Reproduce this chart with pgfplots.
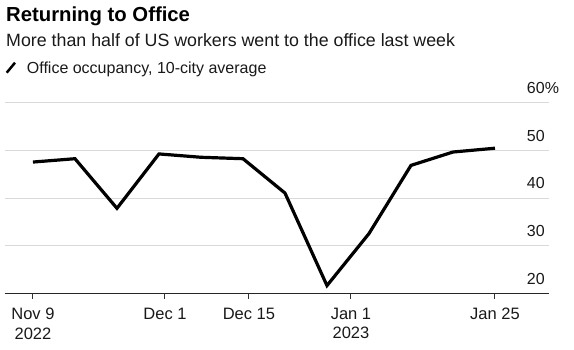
\documentclass[border=0pt]{standalone}
\usepackage{fontspec}
\setmainfont{Liberation Sans}
\usepackage{pgfplots}
\pgfplotsset{compat=1.18}
\begin{document}
\begin{tikzpicture}[x=1pt,y=1pt]
\useasboundingbox (0,0) rectangle (574,350);
\node[anchor=base west, inner sep=0pt, font=\fontsize{20.3}{24}\selectfont\bfseries] at (6,328.3) {Returning to Office};
\node[anchor=base west, inner sep=0pt, font=\fontsize{17.8}{21}\selectfont, text=black!90] at (6,303.3) {More than half of US workers went to the office last week};
\draw[line width=2.5pt] (6.7,277.3) -- (15,287.3);
\node[anchor=base west, inner sep=0pt, font=\fontsize{16}{19}\selectfont, text=black!90] at (26.7,276.7) {Office occupancy, 10-city average};
\begin{axis}[
 at={(5pt,56.3pt)}, anchor=south west, scale only axis,
 width=544pt, height=190.8pt,
 xmin=-4.66, xmax=86, ymin=20, ymax=60,
 axis x line*=bottom, axis y line*=right,
 y axis line style={draw=none},
 x axis line style={line width=1.5pt, color=black!85},
 xtick={0,22,36,53,77},
 xticklabels={{Nov 9\\2022},{Dec 1},{Dec 15},{Jan 1\\2023},{Jan 25}},
 xticklabel style={align=center, font=\fontsize{16.5}{19.4}\selectfont, text=black!90, anchor=north, yshift=-6pt},
 x tick style={line width=1pt, black!80},
 tick align=outside,
 major tick length=5pt,
 ytick={20,30,40,50,60},
 yticklabels={20,30,40,50,60\rlap{\%}},
 y tick style={draw=none},
 yticklabel style={anchor=base east, inner sep=0pt, font=\fontsize{16}{19}\selectfont, text=black!90, yshift=9.5pt, xshift=-9pt},
 ymajorgrids, grid style={line width=1pt, black!15},
 clip=false,
]
\addplot[line width=3.2pt, black] coordinates {
(0,47.6) (7,48.3) (14,37.9) (21,49.3) (28,48.6) (35,48.3) (42,41.1) (49,21.7) (56,32.6) (63,46.9) (70,49.7) (77,50.5)
};
\end{axis}
\end{tikzpicture}
\end{document}
